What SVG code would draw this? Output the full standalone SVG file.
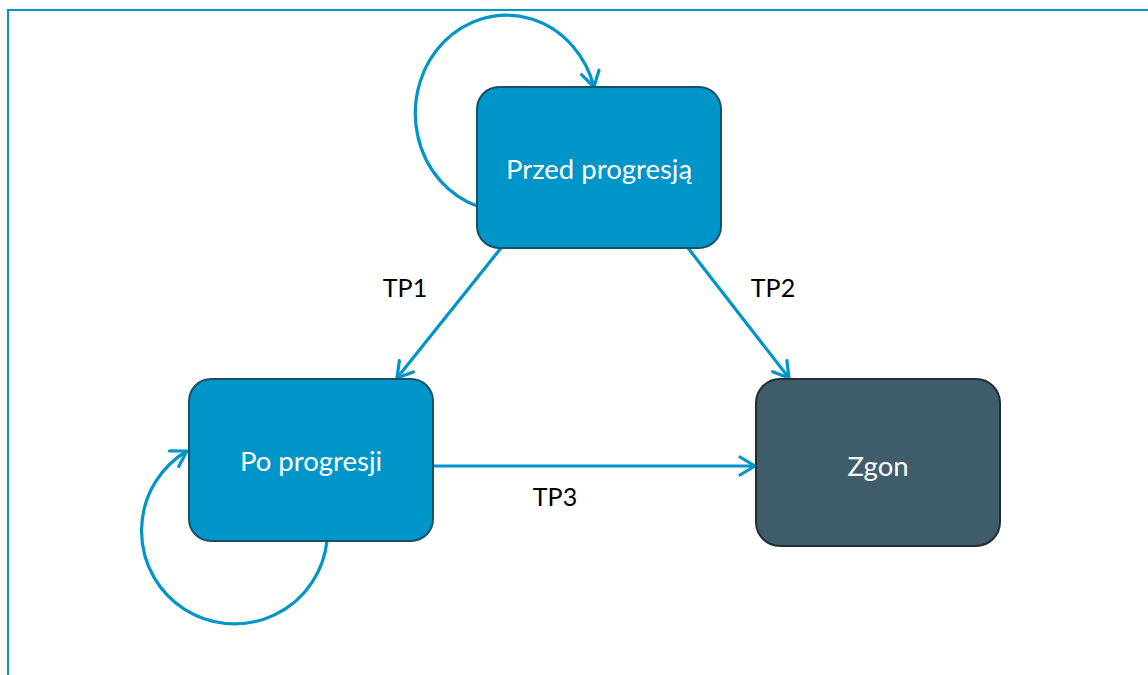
<svg xmlns="http://www.w3.org/2000/svg" width="1148" height="675" viewBox="0 0 1148 675">
<style>
.node{stroke-width:2}
.blue{fill:#0095C8;stroke:#1B4F66}
.dark{fill:#3F5D6B;stroke:#222E33}
.nt{font-family:Lato,"Open Sans",sans-serif;font-size:27.5px;fill:#ffffff;text-anchor:middle}
.lbl{font-family:Lato,"Open Sans",sans-serif;font-size:25px;fill:#000000;text-anchor:middle}
.conn{fill:none;stroke:#0095C8;stroke-width:3.2}
</style>
<defs>
<marker id="arr" markerUnits="userSpaceOnUse" markerWidth="30" markerHeight="30" viewBox="-20 -15 30 30" refX="0" refY="0" orient="auto">
<path d="M-15,-9 L0,0 L-15,9" fill="none" stroke="#0095C8" stroke-width="3.2" stroke-linecap="round" stroke-linejoin="round"/>
</marker>
</defs>
<rect width="1148" height="675" fill="#ffffff"/>
<path d="M8,675 L8,10 L1148,10" fill="none" stroke="#0095C8" stroke-width="2"/>
<g id="connectors">
<path class="conn" d="M477,206 A91,98 0 1 1 594,87" marker-end="url(#arr)"/>
<path class="conn" d="M327,541 A93,93 0 1 1 187,451" marker-end="url(#arr)"/>
<path class="conn" d="M501,248 L397,378" marker-end="url(#arr)"/>
<path class="conn" d="M688,248 L789,378" marker-end="url(#arr)"/>
<path class="conn" d="M433,466 L755,466" marker-end="url(#arr)"/>
<text class="lbl" x="405" y="297">TP1</text>
<text class="lbl" x="773" y="297">TP2</text>
<text class="lbl" x="555" y="506">TP3</text>
</g>
<g id="node-przed">
<rect class="node blue" x="477" y="87" width="244" height="161" rx="22"/>
<text class="nt" x="599" y="179">Przed progresją</text>
</g>
<g id="node-po">
<rect class="node blue" x="189" y="379" width="244" height="162" rx="22"/>
<text class="nt" x="311" y="471">Po progresji</text>
</g>
<g id="node-zgon">
<rect class="node dark" x="756" y="379" width="244" height="167" rx="24"/>
<text class="nt" x="878" y="476">Zgon</text>
</g>
</svg>
